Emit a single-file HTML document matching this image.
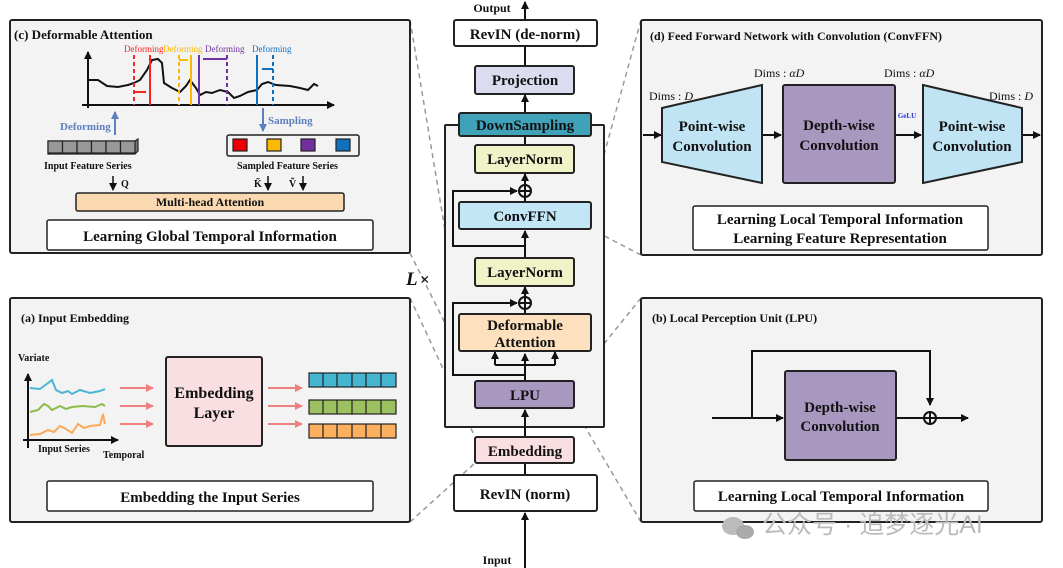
<!DOCTYPE html>
<html><head><meta charset="utf-8"><style>body{margin:0;background:#fff}svg{display:block}text{font-family:"Liberation Serif",serif;font-weight:bold;fill:#111}</style></head><body>
<svg width="1063" height="568" viewBox="0 0 1063 568" xmlns="http://www.w3.org/2000/svg">
<defs>
<marker id="ah" markerWidth="8" markerHeight="8" refX="7" refY="4" orient="auto" markerUnits="userSpaceOnUse"><path d="M0,0 L8,4 L0,8 z" fill="#111"/></marker>
<marker id="ahp" markerWidth="8" markerHeight="8" refX="7" refY="4" orient="auto" markerUnits="userSpaceOnUse"><path d="M0,0 L8,4 L0,8 z" fill="#f08080"/></marker>
<marker id="ahb" markerWidth="8" markerHeight="8" refX="7" refY="4" orient="auto" markerUnits="userSpaceOnUse"><path d="M0,0 L8,4 L0,8 z" fill="#5b7fbf"/></marker>
</defs>
<g stroke="#999" stroke-width="1.5" stroke-dasharray="5,4" fill="none">
<line x1="410" y1="20" x2="459" y2="314"/><line x1="410" y1="253" x2="459" y2="351"/>
<line x1="410" y1="298" x2="475" y2="437"/><line x1="410" y1="522" x2="475" y2="463"/>
<line x1="641" y1="20" x2="591" y2="202"/><line x1="641" y1="255" x2="591" y2="229"/>
<line x1="641" y1="298" x2="574" y2="381"/><line x1="641" y1="522" x2="574" y2="408"/>
</g>
<g fill="#f3f3f3" stroke="#222" stroke-width="2">
<rect x="10" y="20" width="400" height="233" rx="2"/>
<rect x="10" y="298" width="400" height="224" rx="2"/>
<rect x="641" y="20" width="401" height="235" rx="2"/>
<rect x="641" y="298" width="401" height="224" rx="2"/>
<rect x="445" y="125" width="159" height="302" rx="1"/>
</g>
<g stroke="#111" stroke-width="2" fill="none">
<line x1="525" y1="20" x2="525" y2="2" marker-end="url(#ah)"/>
<line x1="525" y1="46" x2="525" y2="66"/>
<line x1="525" y1="113" x2="525" y2="95" marker-end="url(#ah)"/>
<line x1="525" y1="145" x2="525" y2="136"/>
<line x1="525" y1="185" x2="525" y2="174" marker-end="url(#ah)"/>
<line x1="525" y1="202" x2="525" y2="197"/>
<line x1="525" y1="258" x2="525" y2="231" marker-end="url(#ah)"/>
<path d="M525,246 H453 V191 H517" marker-end="url(#ah)"/>
<line x1="525" y1="297" x2="525" y2="287" marker-end="url(#ah)"/>
<line x1="525" y1="314" x2="525" y2="309"/>
<path d="M525,381 V354" marker-end="url(#ah)"/>
<path d="M495,365 H555"/>
<path d="M495,365 V352" marker-end="url(#ah)"/><path d="M555,365 V352" marker-end="url(#ah)"/>
<path d="M525,375 H453 V303 H517" marker-end="url(#ah)"/>
<line x1="525" y1="437" x2="525" y2="410" marker-end="url(#ah)"/>
<line x1="525" y1="475" x2="525" y2="463"/>
<line x1="525" y1="568" x2="525" y2="513" marker-end="url(#ah)"/>
<circle cx="525" cy="191" r="6"/><path d="M519,191 H531 M525,185 V197"/>
<circle cx="525" cy="303" r="6"/><path d="M519,303 H531 M525,297 V309"/>
</g>
<g stroke="#222" stroke-width="2">
<rect x="454" y="20" width="143" height="26" rx="2" fill="#fff"/>
<rect x="475" y="66" width="99" height="28" rx="2" fill="#dcdcf0"/>
<rect x="459" y="113" width="132" height="23" rx="2" fill="#3fa2b8"/>
<rect x="475" y="145" width="99" height="28" rx="2" fill="#f0f2c8"/>
<rect x="459" y="202" width="132" height="27" rx="2" fill="#c2e6f6"/>
<rect x="475" y="258" width="99" height="28" rx="2" fill="#f0f2c8"/>
<rect x="459" y="314" width="132" height="37" rx="2" fill="#fde0bd"/>
<rect x="475" y="381" width="99" height="27" rx="2" fill="#a898c0"/>
<rect x="475" y="437" width="99" height="26" rx="2" fill="#f9dfe2"/>
<rect x="454" y="475" width="143" height="36" rx="2" fill="#fff"/>
</g>
<g font-size="15" text-anchor="middle">
<text x="492" y="12" font-size="12">Output</text>
<text x="525" y="39">RevIN (de-norm)</text>
<text x="525" y="85">Projection</text>
<text x="525" y="130">DownSampling</text>
<text x="525" y="164">LayerNorm</text>
<text x="525" y="221">ConvFFN</text>
<text x="525" y="277">LayerNorm</text>
<text x="525" y="330">Deformable</text>
<text x="525" y="347">Attention</text>
<text x="525" y="400">LPU</text>
<text x="525" y="456">Embedding</text>
<text x="525" y="499">RevIN (norm)</text>
<text x="497" y="564" font-size="12">Input</text>
</g>
<text x="406" y="285" font-size="19" font-style="italic" font-weight="normal">L</text><text x="420" y="285" font-size="17" font-weight="normal">×</text>

<text x="14" y="39" font-size="13">(c) Deformable Attention</text>
<g stroke="#111" stroke-width="2" fill="none">
<line x1="88" y1="108" x2="88" y2="52" marker-end="url(#ah)"/>
<line x1="82" y1="105" x2="334" y2="105" marker-end="url(#ah)"/>
<polyline points="89,80 98,80 107,86 118,87 128,85 134,83 140,80 147,70 152,60 158,59 162,63 164,83 172,88 180,92 186,86 190,80 196,88 200,95 206,92 212,93 220,90 228,92 234,98 240,96 248,92 257,90 262,84 268,82 276,85 290,86 300,88 308,90 314,84 318,86"/>
</g>
<g stroke-width="2" fill="none">
<line x1="134" y1="55" x2="134" y2="105" stroke="#f22" stroke-dasharray="4,3"/><line x1="150" y1="55" x2="150" y2="105" stroke="#f22"/>
<line x1="134" y1="92" x2="146" y2="92" stroke="#f22"/>
<line x1="179" y1="55" x2="179" y2="105" stroke="#fbb900" stroke-dasharray="4,3"/><line x1="191" y1="55" x2="191" y2="105" stroke="#fbb900"/>
<line x1="179" y1="60" x2="188" y2="60" stroke="#fbb900"/>
<line x1="199" y1="55" x2="199" y2="105" stroke="#7030a0"/><line x1="227" y1="55" x2="227" y2="105" stroke="#7030a0" stroke-dasharray="4,3"/>
<line x1="227" y1="59" x2="203" y2="59" stroke="#7030a0"/>
<line x1="257" y1="55" x2="257" y2="105" stroke="#1070c0"/><line x1="273" y1="55" x2="273" y2="105" stroke="#1070c0" stroke-dasharray="4,3"/>
<line x1="273" y1="69" x2="262" y2="69" stroke="#1070c0"/>
</g>
<g font-size="9"><text x="124" y="52" style="fill:#f22;font-weight:normal">Deforming</text><text x="163" y="52" style="fill:#fbb900;font-weight:normal">Deforming</text><text x="205" y="52" style="fill:#7030a0;font-weight:normal">Deforming</text><text x="252" y="52" style="fill:#1070c0;font-weight:normal">Deforming</text></g>
<line x1="115" y1="135" x2="115" y2="112" stroke="#5b7fbf" stroke-width="2" marker-end="url(#ahb)"/>
<text x="60" y="130" font-size="11" style="fill:#5b7fbf">Deforming</text>
<line x1="263" y1="108" x2="263" y2="131" stroke="#5b7fbf" stroke-width="2" marker-end="url(#ahb)"/>
<text x="268" y="124" font-size="11" style="fill:#5b7fbf">Sampling</text>
<g stroke="#222" stroke-width="1.2" fill="#999">
<path d="M48,141 h87 l3,-2 v12 l-3,3 h-87z" fill="#777"/>
<rect x="48" y="141" width="14.5" height="12"/><rect x="62.5" y="141" width="14.5" height="12"/><rect x="77" y="141" width="14.5" height="12"/><rect x="91.5" y="141" width="14.5" height="12"/><rect x="106" y="141" width="14.5" height="12"/><rect x="120.5" y="141" width="14.5" height="12"/>
<rect x="227" y="135" width="132" height="21" rx="2" fill="none" stroke-width="1.5"/>
<rect x="233" y="139" width="14" height="12" fill="#e00"/><rect x="267" y="139" width="14" height="12" fill="#fbb900"/><rect x="301" y="139" width="14" height="12" fill="#7030a0"/><rect x="336" y="139" width="14" height="12" fill="#1070c0"/>
</g>
<text x="44" y="169" font-size="10">Input Feature Series</text>
<text x="237" y="169" font-size="10">Sampled Feature Series</text>
<g stroke="#111" stroke-width="1.5"><line x1="113" y1="176" x2="113" y2="190" marker-end="url(#ah)"/><line x1="268" y1="176" x2="268" y2="190" marker-end="url(#ah)"/><line x1="303" y1="176" x2="303" y2="190" marker-end="url(#ah)"/></g>
<text x="121" y="187" font-size="10">Q</text><text x="254" y="187" font-size="10">K̃</text><text x="289" y="187" font-size="10">Ṽ</text>
<rect x="76" y="193" width="268" height="18" rx="2" fill="#fbd9b0" stroke="#222" stroke-width="1.5"/>
<text x="210" y="206" font-size="12" text-anchor="middle">Multi-head Attention</text>
<rect x="47" y="220" width="326" height="30" rx="2" fill="#fff" stroke="#222" stroke-width="1.5"/>
<text x="210" y="241" font-size="15" text-anchor="middle">Learning Global Temporal Information</text>

<text x="21" y="322" font-size="12">(a) Input Embedding</text>
<text x="18" y="361" font-size="10">Variate</text>
<g stroke="#111" stroke-width="2" fill="none"><line x1="28" y1="448" x2="28" y2="374" marker-end="url(#ah)"/><line x1="23" y1="440" x2="118" y2="440" marker-end="url(#ah)"/></g>
<polyline points="30,388 40,389 48,383 52,380 56,390 62,393 68,391 72,394 80,390 90,393 100,391 105,389" stroke="#4bb6d4" stroke-width="2" fill="none"/>
<polyline points="30,412 38,410 44,404 48,406 52,410 60,406 66,409 72,407 82,406 95,407 102,404 105,406" stroke="#8dbb4e" stroke-width="2" fill="none"/>
<polyline points="30,435 40,434 48,430 54,432 60,426 66,429 72,433 78,424 84,428 90,426 100,425 103,414 105,424" stroke="#fbaa5a" stroke-width="2" fill="none"/>
<text x="38" y="452" font-size="10">Input Series</text><text x="103" y="458" font-size="10">Temporal</text>
<g stroke="#f08080" stroke-width="2"><line x1="120" y1="388" x2="153" y2="388" marker-end="url(#ahp)"/><line x1="120" y1="406" x2="153" y2="406" marker-end="url(#ahp)"/><line x1="120" y1="424" x2="153" y2="424" marker-end="url(#ahp)"/>
<line x1="268" y1="388" x2="302" y2="388" marker-end="url(#ahp)"/><line x1="268" y1="406" x2="302" y2="406" marker-end="url(#ahp)"/><line x1="268" y1="424" x2="302" y2="424" marker-end="url(#ahp)"/></g>
<rect x="166" y="357" width="96" height="89" rx="2" fill="#f9dfe2" stroke="#222" stroke-width="2"/>
<text x="214" y="398" font-size="16" text-anchor="middle">Embedding</text><text x="214" y="418" font-size="16" text-anchor="middle">Layer</text>
<g stroke="#222" stroke-width="1.2">
<rect x="309" y="373" width="87" height="14" fill="#45b5d0"/><rect x="309" y="400" width="87" height="14" fill="#9cc060"/><rect x="309" y="424" width="87" height="14" fill="#fbb060"/>
<path d="M323,373v14M337,373v14M352,373v14M366,373v14M381,373v14M323,400v14M337,400v14M352,400v14M366,400v14M381,400v14M323,424v14M337,424v14M352,424v14M366,424v14M381,424v14" fill="none"/>
</g>
<rect x="47" y="481" width="326" height="30" rx="2" fill="#fff" stroke="#222" stroke-width="1.5"/>
<text x="210" y="502" font-size="15" text-anchor="middle">Embedding the Input Series</text>

<text x="650" y="40" font-size="12">(d)  Feed Forward Network with Convolution (ConvFFN)</text>
<g font-size="12"><text x="649" y="100" style="font-weight:normal">Dims : <tspan font-style="italic">D</tspan></text><text x="754" y="77" style="font-weight:normal">Dims : <tspan font-style="italic">αD</tspan></text><text x="884" y="77" style="font-weight:normal">Dims : <tspan font-style="italic">αD</tspan></text><text x="989" y="100" style="font-weight:normal">Dims : <tspan font-style="italic">D</tspan></text></g>
<g stroke="#111" stroke-width="2"><line x1="643" y1="135" x2="661" y2="135" marker-end="url(#ah)"/><line x1="763" y1="135" x2="781" y2="135" marker-end="url(#ah)"/><line x1="896" y1="135" x2="921" y2="135" marker-end="url(#ah)"/><line x1="1022" y1="135" x2="1040" y2="135" marker-end="url(#ah)"/></g>
<g stroke="#222" stroke-width="2">
<polygon points="662,108 762,85 762,183 662,162" fill="#c0e4f4"/>
<rect x="783" y="85" width="112" height="98" rx="2" fill="#a898c0"/>
<polygon points="923,85 1022,108 1022,162 923,183" fill="#c0e4f4"/>
</g>
<text x="907" y="118" font-size="7" text-anchor="middle" style="fill:#2233dd">GeLU</text>
<g font-size="15" text-anchor="middle"><text x="712" y="131">Point-wise</text><text x="712" y="151">Convolution</text><text x="839" y="130">Depth-wise</text><text x="839" y="150">Convolution</text><text x="972" y="131">Point-wise</text><text x="972" y="151">Convolution</text></g>
<rect x="693" y="206" width="295" height="44" rx="2" fill="#fff" stroke="#222" stroke-width="1.5"/>
<text x="840" y="224" font-size="15" text-anchor="middle">Learning Local Temporal Information</text>
<text x="840" y="243" font-size="15" text-anchor="middle">Learning Feature Representation</text>

<text x="652" y="322" font-size="12">(b)  Local Perception Unit (LPU)</text>
<g stroke="#111" stroke-width="2" fill="none">
<line x1="712" y1="418" x2="783" y2="418" marker-end="url(#ah)"/>
<path d="M752,418 V351 H930 V405" marker-end="url(#ah)"/>
<line x1="896" y1="418" x2="924" y2="418"/>
<line x1="936" y1="418" x2="968" y2="418" marker-end="url(#ah)"/>
<circle cx="930" cy="418" r="6"/><path d="M924,418 H936 M930,412 V424"/>
</g>
<rect x="785" y="371" width="111" height="89" rx="2" fill="#a898c0" stroke="#222" stroke-width="2"/>
<text x="840" y="412" font-size="15" text-anchor="middle">Depth-wise</text><text x="840" y="431" font-size="15" text-anchor="middle">Convolution</text>
<rect x="694" y="481" width="294" height="30" rx="2" fill="#fff" stroke="#222" stroke-width="1.5"/>
<text x="841" y="501" font-size="15" text-anchor="middle">Learning Local Temporal Information</text>
<ellipse cx="733" cy="526" rx="11" ry="9" fill="#bbb"/><ellipse cx="745" cy="532" rx="9" ry="7" fill="#aaa"/>
<text x="762" y="533" font-size="25" style="fill:#bbb;font-weight:normal;font-family:'Liberation Sans','Noto Sans CJK SC',sans-serif">公众号 · 追梦逐光AI</text>
</svg>
</body></html>
